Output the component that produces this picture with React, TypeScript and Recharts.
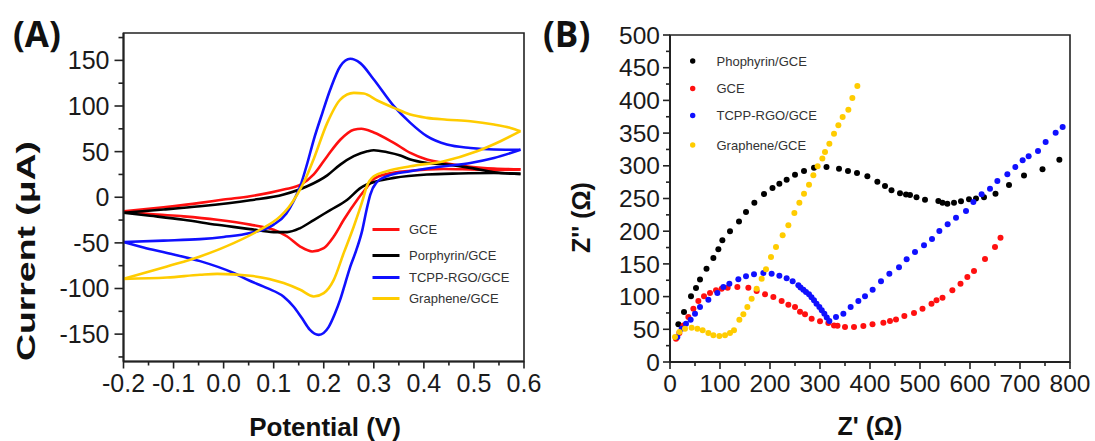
import React from "react";
import { LineChart, Line, XAxis, YAxis, ReferenceArea, ScatterChart, Scatter } from "recharts";

// ---------- (A) cyclic voltammograms: [potential (V), current (µA)] ----------
// forward = anodic sweep (-0.2 -> 0.6), reverse = cathodic sweep back
const gceFwd = [[-0.2,-15.5],[-0.12,-11],[-0.047,-6.2],[0,-2.5],[0.053,1.1],[0.12,8.4],[0.155,14],[0.18,25],[0.207,45],[0.233,63],[0.26,74],[0.275,75],[0.3,71],[0.34,59.6],[0.373,48.6],[0.406,41.3],[0.446,37],[0.493,33.5],[0.54,31.5],[0.593,30.5]];
const gceRev = [[0.593,30.5],[0.54,30],[0.493,30.5],[0.44,31],[0.373,29],[0.326,25.5],[0.3,20],[0.285,10],[0.267,-2.7],[0.24,-24.7],[0.22,-43],[0.2,-55.7],[0.177,-59.4],[0.153,-54],[0.127,-43],[0.1,-35.6],[0.053,-30],[-0.013,-24.7],[-0.08,-21],[-0.147,-18.5],[-0.2,-15.5]];

const porphFwd = [[-0.2,-17],[-0.12,-13.5],[-0.047,-9.9],[0.053,-3.3],[0.12,2.9],[0.167,12],[0.207,24],[0.233,35.8],[0.26,45],[0.287,50.4],[0.3,51.5],[0.327,49.3],[0.353,45.7],[0.373,41.3],[0.406,37.6],[0.446,35.8],[0.493,32.2],[0.54,27.4],[0.593,25.6]];
const porphRev = [[0.593,25.6],[0.54,26.5],[0.47,26],[0.406,24.9],[0.34,21.2],[0.306,17.5],[0.273,10],[0.247,-2.7],[0.213,-14],[0.18,-25],[0.153,-33.8],[0.127,-38.2],[0.1,-38.2],[0.053,-34.9],[-0.013,-30.2],[-0.08,-24.7],[-0.147,-20.3],[-0.2,-17]];

const tcppFwd = [[-0.2,-49],[-0.12,-47.5],[-0.047,-45.9],[0,-43.5],[0.053,-39.3],[0.1,-30],[0.125,-18],[0.14,-4],[0.153,12],[0.167,37],[0.18,63],[0.197,92],[0.213,118],[0.233,143.6],[0.253,151.7],[0.273,147],[0.3,129],[0.34,99.8],[0.373,81.5],[0.406,66.9],[0.446,57.7],[0.493,54],[0.54,52.3],[0.593,52]];
const tcppRev = [[0.593,52],[0.54,43],[0.493,37.6],[0.44,34],[0.373,28.5],[0.326,23],[0.305,16],[0.293,3],[0.285,-15],[0.277,-36],[0.265,-58],[0.253,-76],[0.243,-94],[0.233,-112],[0.222,-128],[0.21,-142],[0.19,-150.8],[0.172,-145],[0.157,-133],[0.14,-120],[0.12,-109],[0.087,-99.6],[0.05,-91],[0.02,-83],[-0.047,-70],[-0.113,-61],[-0.16,-55],[-0.2,-49]];

const grapheneFwd = [[-0.2,-89.4],[-0.113,-75.8],[-0.047,-64.9],[0.02,-50.3],[0.073,-35.6],[0.113,-21],[0.13,-11],[0.147,3],[0.165,22],[0.18,42],[0.207,81.5],[0.233,107],[0.26,114.4],[0.28,113.7],[0.307,106],[0.34,98],[0.373,90.6],[0.406,87],[0.446,85],[0.493,83.3],[0.54,79.7],[0.573,76],[0.593,72.4]];
const grapheneRev = [[0.593,72.4],[0.553,61.4],[0.506,50.4],[0.44,39.5],[0.373,34],[0.326,28.5],[0.3,23],[0.286,12],[0.278,-2.7],[0.26,-32],[0.24,-61],[0.22,-90.5],[0.2,-105],[0.18,-108.7],[0.153,-101.4],[0.12,-94],[0.053,-86],[-0.013,-84],[-0.047,-85],[-0.113,-88],[-0.2,-89.4]];

const potentialTicks = [-0.2,-0.15,-0.1,-0.05,0,0.05,0.1,0.15,0.2,0.25,0.3,0.35,0.4,0.45,0.5,0.55,0.6];
const potentialMajor = [-0.2,-0.1,0,0.1,0.2,0.3,0.4,0.5,0.6];
const currentTicks = [-175,-150,-125,-100,-75,-50,-25,0,25,50,75,100,125,150,175];
const currentMajor = [-150,-100,-50,0,50,100,150];

// ---------- (B) Nyquist plots: [Z' (Ω), -Z'' (Ω)] ----------
const porphyrinEis = [[16.7,57.6],[28,76.5],[42,100.4],[52,113],[60,126],[73,142.7],[86.7,159],[96.7,172.3],[104.7,186],[120,199.8],[138,215],[152,229.4],[168.7,243.6],[188,257],[205,266],[218.7,272.7],[233.3,278.8],[250,286.4],[268,292],[288,297],[313,298],[338,295.6],[356,292],[374,289],[394.7,284],[414.7,275.7],[430,269],[443,262.5],[460,258],[472,256],[480,255.4],[493,251.8],[510,248],[536.7,246],[545,243.6],[554.7,242],[568,243.6],[582,245.7],[598,248.7],[612,250],[628,252],[651,257.4],[678,270.6],[708,285],[745,294.6],[778.7,309.4]];
const gceEis = [[12,35.7],[18.7,44.3],[26.7,56],[36.7,68.8],[46.7,81.5],[56.7,93.3],[68,100.4],[80,105.5],[92,109.6],[103.3,112],[115.3,113.7],[134.7,114.7],[156.7,113.7],[173.3,108.6],[190,103.5],[206.7,99.4],[223.3,93.3],[236.7,87.7],[250,84],[260,77],[270,72.9],[283.3,66.3],[300,62.2],[316.7,59.6],[328,56],[335,55.5],[350,53.5],[368,53.5],[386.7,55],[405,57.6],[426.7,60],[440,62.7],[452,65],[468.7,70.3],[488,75],[505,81.5],[523,89],[533,94.3],[545,98.4],[564.7,109.6],[581,119.8],[594.7,130],[608,139],[630,157.5],[650,175.8],[661,190]];
const tcppEis = [[14.7,38.2],[23.3,51],[32,58.6],[41.3,64.7],[50,73.9],[60,84.1],[76.7,95.3],[94.7,105.5],[106.7,114.7],[118.7,119.8],[136.7,126.4],[152,131],[168,134],[186.7,136],[203.3,135],[218.7,132],[233.3,128],[245.3,123.3],[256.7,117.2],[261,114],[266.7,110.6],[272,107],[278,103.5],[283,99],[288,94.3],[293,89],[298.7,84.1],[303.5,79],[308.7,73.9],[313.5,68],[318.7,62.7],[332,68.8],[346.7,73.9],[361.3,84.1],[376.7,93.3],[390,100.4],[405.3,110.6],[422,123.3],[438.7,135],[458,145],[473.3,157],[490,168.2],[508,178.4],[524,188],[538.7,200.3],[555.3,210.5],[572,220.7],[592,230.9],[606.7,244.6],[623.3,256.4],[640,265],[654.7,276.8],[674.7,287],[690.7,298.2],[705.3,308.4],[717.3,314.5],[736,322.6],[751.3,336.4],[771.3,350.7],[785.3,359.3]];
const grapheneEis = [[10,38.2],[18.7,45.9],[30,51],[43.3,52.5],[54.7,51],[65.3,48.4],[76.7,44.3],[86.7,40.8],[98.7,39.8],[110,40.8],[120,44.3],[128,48.4],[138.7,64.7],[146.7,72.9],[154.7,84.1],[163.3,96.8],[173.3,112],[183.3,127.4],[192,141.7],[202,160.5],[212,175.8],[225.3,193.7],[236.7,209],[248.7,227.8],[258.7,243.6],[268,257.4],[278,271],[286.7,285.4],[295.3,299.2],[304.7,311],[310,321],[318.7,333.8],[328,349],[336.7,362],[345.3,374.6],[356.7,385.8],[364.7,403.7],[374.7,422]];

const zReTicks = [0,50,100,150,200,250,300,350,400,450,500,550,600,650,700,750,800];
const zReMajor = [0,100,200,300,400,500,600,700,800];
const zImTicks = [0,25,50,75,100,125,150,175,200,225,250,275,300,325,350,375,400,425,450,475,500];
const zImMajor = [0,50,100,150,200,250,300,350,400,450,500];

const RED = "#ff1010";
const BLACK = "#000000";
const BLUE = "#1010ff";
const GOLD = "#ffcc00";
const AXIS = "#222";
const INK = "#1a1a1a";
const FONT = "'Liberation Sans', Arial, sans-serif";

const cv = (arr: number[][]) => arr.map(([v, i]) => ({ v, i }));
const eis = (arr: number[][]) => arr.map(([x, y]) => ({ x, y }));
const isIn = (list: number[], v: number) => list.some((m) => Math.abs(m - v) < 1e-9);

// custom ticks: tickSize/tickMargin are 0, so props.x / props.y sit on the axis line
const bottomTick = (majors: number[], fmt: (v: number) => string, fs: number, gap: number, big: number, small: number) =>
  (p: any) => {
    const v = p.payload.value;
    const major = isIn(majors, v);
    return (
      <g>
        <line x1={p.x} x2={p.x} y1={p.y} y2={p.y + (major ? big : small)} stroke={AXIS} strokeWidth={1.6} />
        {major && (
          <text x={p.x} y={p.y + gap} dy="0.71em" textAnchor="middle" fontSize={fs} fill={INK} fontFamily={FONT}>
            {fmt(v)}
          </text>
        )}
      </g>
    );
  };

const leftTick = (majors: number[], fs: number, gap: number, big: number, small: number) =>
  (p: any) => {
    const v = p.payload.value;
    const major = isIn(majors, v);
    return (
      <g>
        <line x1={p.x - (major ? big : small)} x2={p.x} y1={p.y} y2={p.y} stroke={AXIS} strokeWidth={1.6} />
        {major && (
          <text x={p.x - gap} y={p.y} dy="0.355em" textAnchor="end" fontSize={fs} fill={INK} fontFamily={FONT}>
            {String(v)}
          </text>
        )}
      </g>
    );
  };

const dot = (p: any) => <circle cx={p.cx} cy={p.cy} r={3} fill={p.fill} />;

const legendA = [
  { name: "GCE", color: RED, y: 229.5 },
  { name: "Porphyrin/GCE", color: BLACK, y: 255.5 },
  { name: "TCPP-RGO/GCE", color: BLUE, y: 277.5 },
  { name: "Graphene/GCE", color: GOLD, y: 298.5 },
];
const legendB = [
  { name: "Phophyrin/GCE", color: BLACK, y: 61 },
  { name: "GCE", color: RED, y: 88.5 },
  { name: "TCPP-RGO/GCE", color: BLUE, y: 115.5 },
  { name: "Graphene/GCE", color: GOLD, y: 145 },
];

function CvPanel() {
  const series = [
    { fwd: gceFwd, rev: gceRev, color: RED },
    { fwd: porphFwd, rev: porphRev, color: BLACK },
    { fwd: tcppFwd, rev: tcppRev, color: BLUE },
    { fwd: grapheneFwd, rev: grapheneRev, color: GOLD },
  ];
  return (
    <LineChart width={560} height={441} margin={{ top: 33, right: 36, bottom: 0, left: 0 }}>
      <XAxis
        type="number"
        dataKey="v"
        domain={[-0.2, 0.6]}
        ticks={potentialTicks}
        interval={0}
        height={79.5}
        tickSize={0}
        tickMargin={0}
        tickLine={false}
        axisLine={{ stroke: AXIS, strokeWidth: 2 }}
        tick={bottomTick(potentialMajor, (v) => v.toFixed(1), 25, 13, 7, 4)}
        allowDataOverflow
      />
      <YAxis
        type="number"
        domain={[-180, 180]}
        ticks={currentTicks}
        interval={0}
        width={123.5}
        tickSize={0}
        tickMargin={0}
        tickLine={false}
        axisLine={{ stroke: AXIS, strokeWidth: 2 }}
        tick={leftTick(currentMajor, 25, 14, 9, 5)}
        allowDataOverflow
      />
      <ReferenceArea x1={-0.2} x2={0.6} y1={-180} y2={180} fill="none" stroke={AXIS} strokeWidth={1.6} ifOverflow="visible" />
      {series.flatMap((s, k) => [
        <Line key={`f${k}`} data={cv(s.fwd)} dataKey="i" type="monotone" stroke={s.color} strokeWidth={2.6} dot={false} activeDot={false} isAnimationActive={false} />,
        <Line key={`r${k}`} data={cv(s.rev)} dataKey="i" type="monotone" stroke={s.color} strokeWidth={2.6} dot={false} activeDot={false} isAnimationActive={false} />,
      ])}
    </LineChart>
  );
}

function EisPanel() {
  const series = [
    { data: porphyrinEis, color: BLACK },
    { data: gceEis, color: RED },
    { data: tcppEis, color: BLUE },
    { data: grapheneEis, color: GOLD },
  ];
  return (
    <ScatterChart width={535} height={441} margin={{ top: 35, right: 25, bottom: 0, left: 0 }}>
      <XAxis
        type="number"
        dataKey="x"
        domain={[0, 800]}
        ticks={zReTicks}
        interval={0}
        height={79}
        tickSize={0}
        tickMargin={0}
        tickLine={false}
        axisLine={{ stroke: AXIS, strokeWidth: 2 }}
        tick={bottomTick(zReMajor, (v) => String(v), 24.5, 13, 7, 4)}
        allowDataOverflow
      />
      <YAxis
        type="number"
        dataKey="y"
        domain={[0, 500]}
        ticks={zImTicks}
        interval={0}
        width={110}
        tickSize={0}
        tickMargin={0}
        tickLine={false}
        axisLine={{ stroke: AXIS, strokeWidth: 2 }}
        tick={leftTick(zImMajor, 24.5, 10, 7, 4)}
        allowDataOverflow
      />
      <ReferenceArea x1={0} x2={800} y1={0} y2={500} fill="none" stroke={AXIS} strokeWidth={1.6} ifOverflow="visible" />
      {series.map((s, k) => (
        <Scatter key={k} data={eis(s.data)} fill={s.color} shape={dot} isAnimationActive={false} />
      ))}
    </ScatterChart>
  );
}

export default function App() {
  return (
    <div style={{ position: "absolute", left: 0, top: 0, width: 1095, height: 441, background: "#fff", overflow: "hidden" }}>
      <div style={{ position: "absolute", left: 0, top: 0 }}>
        <CvPanel />
      </div>
      <div style={{ position: "absolute", left: 560, top: 0 }}>
        <EisPanel />
      </div>
      <svg width={1095} height={441} style={{ position: "absolute", left: 0, top: 0, pointerEvents: "none" }}>
        <g fontFamily="'Open Sans', Arial, sans-serif" fontWeight={700} fontSize={35} fill="#111">
          <text x={13} y={47}>(A)</text>
          <text x={543} y={47}>(B)</text>
        </g>
        <g fontFamily={FONT} fontWeight={700} fill="#111">
          <text x={325} y={436} fontSize={26} textAnchor="middle">Potential (V)</text>
          <text
            transform="translate(35,251) rotate(-90)"
            fontSize={26}
            textAnchor="middle"
            textLength={220}
            lengthAdjust="spacingAndGlyphs"
          >
            Current (μA)
          </text>
          <text x={870} y={435} fontSize={25} textAnchor="middle">Z' (Ω)</text>
          <text transform="translate(590,217.5) rotate(-90)" fontSize={25} textAnchor="middle">Z'' (Ω)</text>
        </g>
        <g fontFamily={FONT} fontSize={13} fill="#333">
          {legendA.map((l) => (
            <g key={l.name}>
              <line x1={372.5} x2={399.5} y1={l.y} y2={l.y} stroke={l.color} strokeWidth={3} />
              <text x={409} y={l.y} dy="0.36em">{l.name}</text>
            </g>
          ))}
          {legendB.map((l) => (
            <g key={l.name}>
              <circle cx={692.7} cy={l.y} r={2.7} fill={l.color} />
              <text x={716.5} y={l.y} dy="0.36em">{l.name}</text>
            </g>
          ))}
        </g>
      </svg>
    </div>
  );
}
